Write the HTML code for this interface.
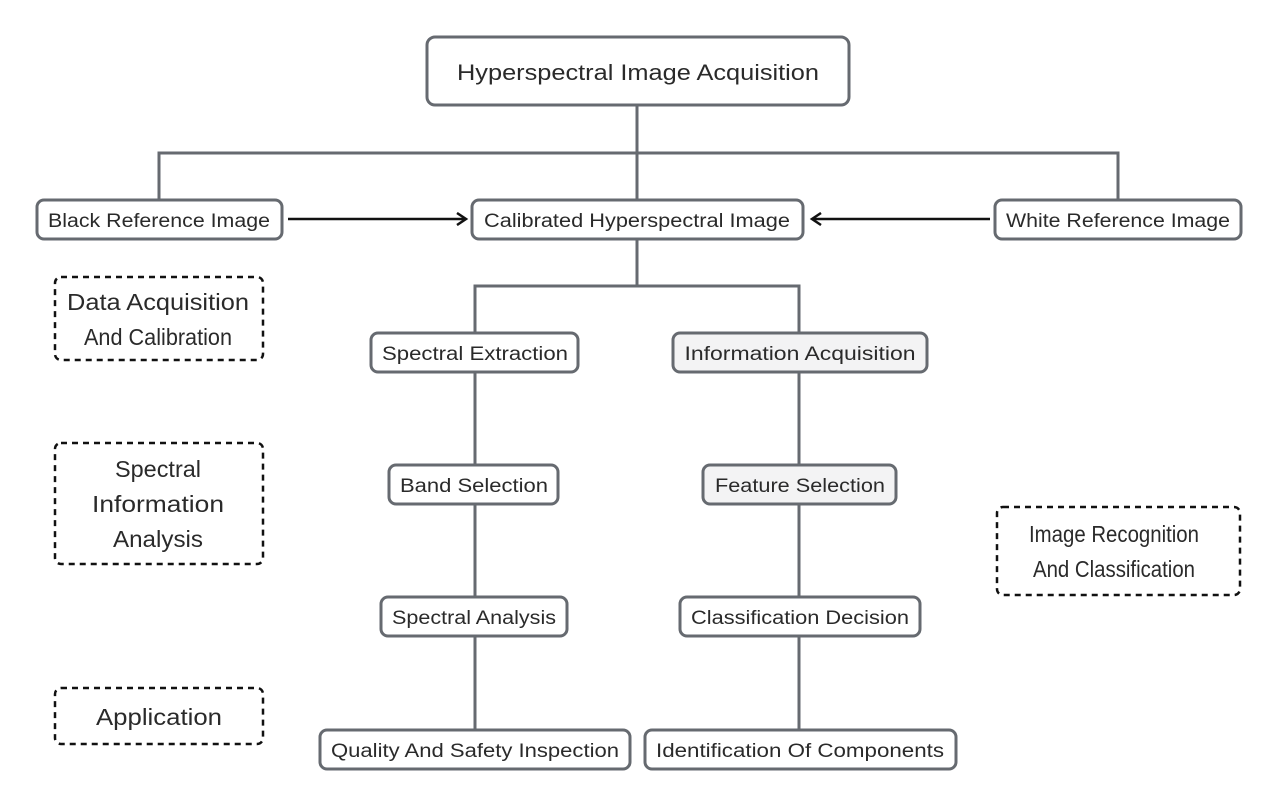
<!DOCTYPE html>
<html><head><style>
body{margin:0;background:#fff}
svg text{font-family:"Liberation Sans","Noto Sans CJK SC",sans-serif;fill:#2a2a2a}
</style></head><body>
<svg width="1280" height="807" viewBox="0 0 1280 807" xmlns="http://www.w3.org/2000/svg">
<defs><marker id="a" markerWidth="14" markerHeight="14" refX="11" refY="7" orient="auto" markerUnits="userSpaceOnUse"><path d="M2,1 L11,7 L2,13" fill="none" stroke="#111" stroke-width="2.5"/></marker></defs>
<g stroke="#666a70" stroke-width="3" fill="none">
<path d="M637,105 V200 M159,200 V153 H1118 V200 M637,239 V286 M475,333 V286 H799 V333 M475,372 V465 M475,504 V597 M475,636 V730 M799,372 V465 M799,504 V597 M799,636 V730"/>
</g>
<g stroke="#111" stroke-width="2.5" fill="none">
<path d="M288,219 H466" marker-end="url(#a)"/>
<path d="M990,219 H812" marker-end="url(#a)"/>
</g>
<g stroke="#666a70" stroke-width="3" fill="#fff">
<rect x="427" y="37" width="422" height="68" rx="8"/>
<rect x="37" y="200" width="245" height="39" rx="7"/>
<rect x="472" y="200" width="331" height="39" rx="7"/>
<rect x="995" y="200" width="246" height="39" rx="7"/>
<rect x="371" y="333" width="207" height="39" rx="7"/>
<rect x="673" y="333" width="254" height="39" rx="7" fill="#f3f3f4"/>
<rect x="389" y="465" width="169" height="39" rx="7"/>
<rect x="703" y="465" width="193" height="39" rx="7" fill="#f3f3f4"/>
<rect x="381" y="597" width="186" height="39" rx="7"/>
<rect x="680" y="597" width="240" height="39" rx="7"/>
<rect x="320" y="730" width="310" height="39" rx="7"/>
<rect x="645" y="730" width="311" height="39" rx="7"/>
</g>
<g stroke="#111" stroke-width="2.5" fill="none" stroke-dasharray="6,5">
<rect x="55" y="277" width="208" height="83" rx="6"/>
<rect x="55" y="443" width="208" height="121" rx="6"/>
<rect x="55" y="688" width="208" height="56" rx="6"/>
<rect x="997" y="507" width="243" height="88" rx="6"/>
</g>
<g text-anchor="middle" font-size="19">
<text x="638" y="80" font-size="22" textLength="362" lengthAdjust="spacingAndGlyphs">Hyperspectral Image Acquisition</text>
<text x="159" y="227" textLength="222" lengthAdjust="spacingAndGlyphs">Black Reference Image</text>
<text x="637" y="227" textLength="306" lengthAdjust="spacingAndGlyphs">Calibrated Hyperspectral Image</text>
<text x="1118" y="227" textLength="224" lengthAdjust="spacingAndGlyphs">White Reference Image</text>
<text x="475" y="360" textLength="186" lengthAdjust="spacingAndGlyphs">Spectral Extraction</text>
<text x="800" y="360" textLength="231" lengthAdjust="spacingAndGlyphs">Information Acquisition</text>
<text x="474" y="492" textLength="148" lengthAdjust="spacingAndGlyphs">Band Selection</text>
<text x="800" y="492" textLength="170" lengthAdjust="spacingAndGlyphs">Feature Selection</text>
<text x="474" y="624" textLength="164" lengthAdjust="spacingAndGlyphs">Spectral Analysis</text>
<text x="800" y="624" textLength="218" lengthAdjust="spacingAndGlyphs">Classification Decision</text>
<text x="475" y="757" textLength="288" lengthAdjust="spacingAndGlyphs">Quality And Safety Inspection</text>
<text x="800" y="757" textLength="288" lengthAdjust="spacingAndGlyphs">Identification Of Components</text>
<g font-size="23">
<text x="158" y="310" textLength="182" lengthAdjust="spacingAndGlyphs">Data Acquisition</text>
<text x="158" y="345" textLength="148" lengthAdjust="spacingAndGlyphs">And Calibration</text>
<text x="158" y="477" textLength="86" lengthAdjust="spacingAndGlyphs">Spectral</text>
<text x="158" y="512" textLength="132" lengthAdjust="spacingAndGlyphs">Information</text>
<text x="158" y="547" textLength="90" lengthAdjust="spacingAndGlyphs">Analysis</text>
<text x="159" y="725" textLength="126" lengthAdjust="spacingAndGlyphs">Application</text>
<text x="1114" y="542" textLength="170" lengthAdjust="spacingAndGlyphs">Image Recognition</text>
<text x="1114" y="577" textLength="162" lengthAdjust="spacingAndGlyphs">And Classification</text>
</g>
</g>
</svg>
</body></html>
